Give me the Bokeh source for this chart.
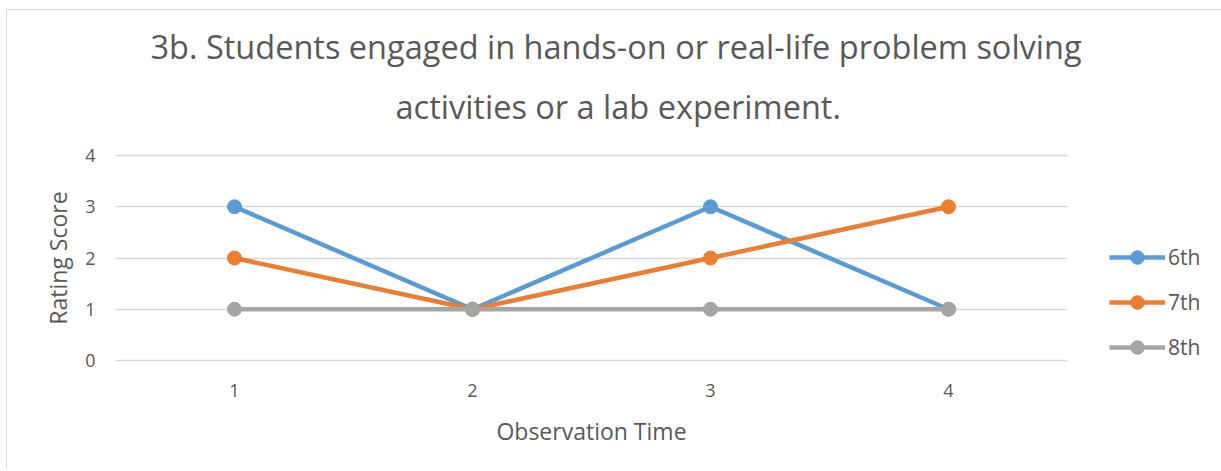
from bokeh.plotting import figure
from bokeh.models import Legend, LegendItem, Title, FactorRange, Range1d, FixedTicker
from bokeh.embed import file_html
from bokeh.resources import INLINE

times = ["1", "2", "3", "4"]
series_names = ["6th", "7th", "8th"]
g6 = [3, 1, 3, 1]
g7 = [2, 1, 2, 3]
g8 = [1, 1, 1, 1]
colors = ["#5B9BD5", "#ED7D31", "#A5A5A5"]
title_lines = ["3b. Students engaged in hands-on or real-life problem solving",
               "activities or a lab experiment."]
y_ticks = [0, 1, 2, 3, 4]

FONT = "Open Sans"
TXT = "#595959"

p = figure(frame_width=952, frame_height=209, x_range=FactorRange(*times),
           y_range=Range1d(-0.04, 4.04),
           output_backend="svg", toolbar_location=None,
           min_border_left=108, min_border_right=146, min_border_top=143, min_border_bottom=106)
p.styles = {"border-left": "1px solid #D9D9D9", "border-top": "1px solid #D9D9D9",
            "margin-left": "6px", "margin-top": "9px"}
p.outline_line_color = None

# titles: nearest to the frame is added first
for t, off, so in [(title_lines[1], 280, 50), (title_lines[0], 35, -24)]:
    p.add_layout(Title(text=t, align="left", offset=off, standoff=so, text_font=FONT,
                       text_font_size="32.5px", text_color=TXT, text_font_style="normal"),
                 "above")

items = []
for name, vals, c in zip(series_names, [g6, g7, g8], colors):
    r1 = p.line(times, vals, line_color=c, line_width=4.5)
    r2 = p.scatter(times, vals, size=14, fill_color=c, line_color=c)
    items.append(LegendItem(label=name, renderers=[r1, r2]))

legend = Legend(items=items, location=(42, -2), label_text_font=FONT, label_text_font_size="21px",
                label_text_color=TXT, glyph_width=56, glyph_height=34, label_height=34,
                spacing=11, label_standoff=3, border_line_color=None,
                background_fill_alpha=0, padding=0, margin=0)
p.add_layout(legend, "right")

p.xgrid.grid_line_color = None
p.ygrid.grid_line_color = "#D9D9D9"
p.ygrid.grid_line_width = 1.5
p.yaxis.ticker = FixedTicker(ticks=y_ticks)
for ax in (p.xaxis[0], p.yaxis[0]):
    ax.axis_line_color = None
    ax.major_tick_line_color = None
    ax.minor_tick_line_color = None
    ax.major_label_text_font = FONT
    ax.major_label_text_font_size = "18px"
    ax.major_label_text_color = TXT
    ax.axis_label_text_font = FONT
    ax.axis_label_text_font_size = "23px"
    ax.axis_label_text_color = TXT
    ax.axis_label_text_font_style = "normal"
p.xaxis.axis_label = "Observation Time"
p.yaxis.axis_label = "Rating Score"
p.xaxis.major_label_standoff = 15
p.xaxis.axis_label_standoff = 15
p.yaxis.major_label_standoff = 14
p.yaxis.axis_label_standoff = 8

open("out.html", "w").write(file_html(p, INLINE))
